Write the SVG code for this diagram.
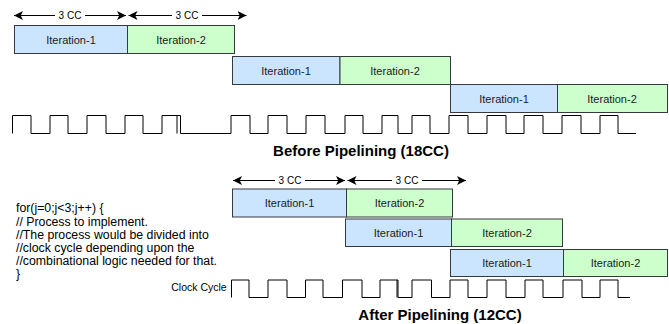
<svg xmlns="http://www.w3.org/2000/svg" width="669" height="324" viewBox="0 0 669 324">
  <defs>
    <marker id="head" viewBox="0 0 10 10" refX="10" refY="5" markerWidth="9" markerHeight="9" markerUnits="userSpaceOnUse" orient="auto-start-reverse">
      <path d="M0,0 L10,5 L0,10 L2.5,5 Z" fill="#000"/>
    </marker>
    <style>
      .it1 { fill: #cce5ff; stroke: #36393d; stroke-width: 1; }
      .it2 { fill: #ccffcc; stroke: #36393d; stroke-width: 1; }
      .lbl { font-family: "Liberation Sans", Arial, sans-serif; font-size: 11px; fill: #1a1a1a; text-anchor: middle; dominant-baseline: central; }
      .cc { font-family: "Liberation Sans", Arial, sans-serif; font-size: 10px; fill: #000; text-anchor: middle; dominant-baseline: central; }
      .span { stroke: #000; stroke-width: 1; fill: none; marker-start: url(#head); marker-end: url(#head); }
      .gap { fill: #fff; }
      .wave { stroke: #000; stroke-width: 1; fill: none; }
      .title { font-family: "Liberation Sans", Arial, sans-serif; font-size: 15px; font-weight: bold; fill: #000; text-anchor: middle; dominant-baseline: central; }
      .code { font-family: "Liberation Sans", Arial, sans-serif; font-size: 12.3px; fill: #000; }
      .side { font-family: "Liberation Sans", Arial, sans-serif; font-size: 10.5px; fill: #000; text-anchor: middle; dominant-baseline: central; }
    </style>
  </defs>

  <!-- Cycle-span dimension arrows -->
  <g id="connectors">
    <line class="span" x1="14" y1="15.5" x2="126" y2="15.5"/>
    <rect class="gap" x="55" y="9" width="30" height="13"/>
    <text class="cc" x="70" y="15.5">3 CC</text>
    <line class="span" x1="128.5" y1="15.5" x2="246.5" y2="15.5"/>
    <rect class="gap" x="172" y="9" width="30" height="13"/>
    <text class="cc" x="187" y="15.5">3 CC</text>

    <line class="span" x1="233" y1="180.5" x2="345" y2="180.5"/>
    <rect class="gap" x="275" y="174" width="30" height="13"/>
    <text class="cc" x="290" y="180.5">3 CC</text>
    <line class="span" x1="347.5" y1="180.5" x2="466" y2="180.5"/>
    <rect class="gap" x="392" y="174" width="30" height="13"/>
    <text class="cc" x="407" y="180.5">3 CC</text>
  </g>

  <!-- Before pipelining: iterations run back to back -->
  <g id="before-r1-it1"><rect class="it1" x="14.5" y="25.5" width="113" height="28"/><text class="lbl" x="71" y="39.5">Iteration-1</text></g>
  <g id="before-r1-it2"><rect class="it2" x="127.5" y="25.5" width="107" height="28"/><text class="lbl" x="181" y="39.5">Iteration-2</text></g>
  <g id="before-r2-it1"><rect class="it1" x="232.5" y="56.5" width="107.5" height="28"/><text class="lbl" x="286" y="70.5">Iteration-1</text></g>
  <g id="before-r2-it2"><rect class="it2" x="340" y="56.5" width="110.5" height="28"/><text class="lbl" x="395" y="70.5">Iteration-2</text></g>
  <g id="before-r3-it1"><rect class="it1" x="450.5" y="84.5" width="107" height="28"/><text class="lbl" x="504" y="98.5">Iteration-1</text></g>
  <g id="before-r3-it2"><rect class="it2" x="557.5" y="84.5" width="110" height="28"/><text class="lbl" x="612" y="98.5">Iteration-2</text></g>

  <!-- Before pipelining: clock -->
  <g id="before-clock">
    <path class="wave" d="M12.5,133.5 V115.5 H31 V133.5 H50 V115.5 H68 V133.5 H87 V115.5 H106 V133.5 H125 V115.5 H143 V133.5 H162 V115.5 H180.5 V133.5 H231"/>
    <path class="wave" d="M177,115.5 V133.5"/>
    <path class="wave" d="M231,133.5 V115.5 H250 V133.5 H268 V115.5 H287 V133.5 H306 V115.5 H325 V133.5 H345 V115.5 H363 V133.5 H382 V115.5 H398 V133.5 H412 V115.5 H430 V133.5 H449 V115.5 H468 V133.5 H487 V115.5 H506 V133.5 H524 V115.5 H543 V133.5 H562 V115.5 H581 V133.5 H600 V115.5 H618 V133.5 H636"/>
  </g>
  <text class="title" x="361" y="150.5">Before Pipelining (18CC)</text>

  <!-- Loop body -->
  <g id="code">
    <text class="code" x="16" y="212">for(j=0;j&lt;3;j++) {</text>
    <text class="code" x="16" y="225.5">// Process to implement.</text>
    <text class="code" x="16" y="239">//The process would be divided into</text>
    <text class="code" x="16" y="252">//clock cycle depending upon the</text>
    <text class="code" x="16" y="264.5">//combinational logic needed for that.</text>
    <text class="code" x="16" y="277.5">}</text>
  </g>

  <!-- After pipelining: iterations overlap -->
  <g id="after-r1-it1"><rect class="it1" x="232.5" y="189" width="114" height="28"/><text class="lbl" x="289.5" y="203">Iteration-1</text></g>
  <g id="after-r1-it2"><rect class="it2" x="346.5" y="189" width="106" height="28"/><text class="lbl" x="399.5" y="203">Iteration-2</text></g>
  <g id="after-r2-it1"><rect class="it1" x="345.5" y="219" width="106" height="27.5"/><text class="lbl" x="398.5" y="233">Iteration-1</text></g>
  <g id="after-r2-it2"><rect class="it2" x="451.5" y="219" width="111" height="27.5"/><text class="lbl" x="507" y="233">Iteration-2</text></g>
  <g id="after-r3-it1"><rect class="it1" x="450.5" y="249.5" width="113" height="27"/><text class="lbl" x="507" y="263">Iteration-1</text></g>
  <g id="after-r3-it2"><rect class="it2" x="563.5" y="249.5" width="104" height="27"/><text class="lbl" x="615.5" y="263">Iteration-2</text></g>

  <!-- After pipelining: clock -->
  <g id="after-clock">
    <text class="side" x="199" y="286.5">Clock Cycle</text>
    <path class="wave" d="M231.5,297.5 V280 H249 V297.5 H268 V280 H287 V297.5 H305.5 V280 H323 V297.5 H342.5 V280 H362 V297.5 H380 V280 H398 V297.5 H412 V280 H431.5 V297.5 H450 V280 H468 V297.5 H487 V280 H506 V297.5 H525 V280 H543 V297.5 H563 V280 H582 V297.5 H600 V280 H618 V297.5 H630"/>
    <path class="wave" d="M397,280 V297.5"/>
  </g>
  <text class="title" x="440" y="314">After Pipelining (12CC)</text>
</svg>
